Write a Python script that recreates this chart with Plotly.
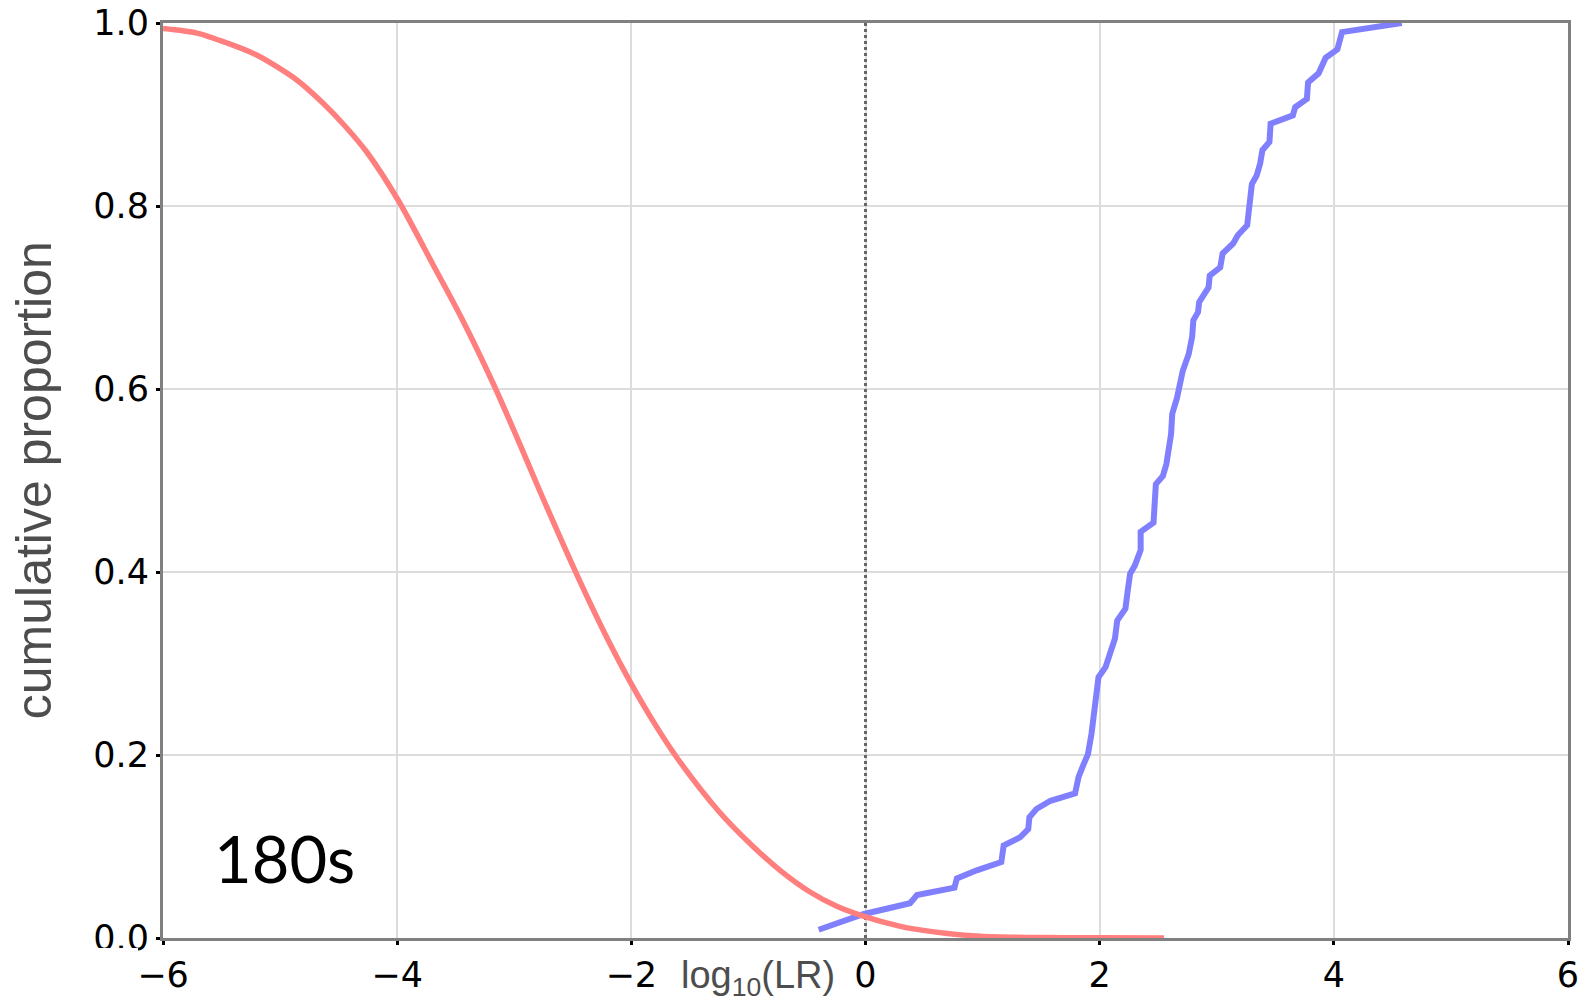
import plotly.graph_objects as go

# ---- data ----
red_x = [-6.0, -5.71, -5.45, -5.20, -4.86, -4.63, -4.45, -4.26, -3.99, -3.69, -3.46,
         -3.18, -2.98, -2.78, -2.44, -2.20, -2.01, -1.80, -1.61, -1.25, -0.96, -0.73,
         -0.47, -0.25, -0.02, 0.29, 0.41, 0.70, 0.98, 1.50, 2.00, 2.55]
red_y = [0.994, 0.989, 0.978, 0.965, 0.938, 0.912, 0.888, 0.859, 0.806, 0.735, 0.680,
         0.606, 0.548, 0.488, 0.390, 0.326, 0.280, 0.234, 0.197, 0.138, 0.100, 0.074,
         0.050, 0.035, 0.024, 0.013, 0.010, 0.005, 0.002, 0.0005, 0.0002, 0.0]

blue_x = [-0.40, -0.02, 0.38, 0.44, 0.76, 0.78, 0.95, 1.16, 1.18, 1.32, 1.39, 1.40,
          1.46, 1.58, 1.79, 1.82, 1.86, 1.90, 1.93, 1.96, 1.99, 2.05, 2.10, 2.13,
          2.15, 2.19, 2.22, 2.24, 2.26, 2.30, 2.32, 2.35, 2.35, 2.40, 2.46, 2.48,
          2.54, 2.57, 2.59, 2.61, 2.62, 2.66, 2.71, 2.76, 2.79, 2.80, 2.84, 2.85,
          2.93, 2.94, 3.03, 3.05, 3.14, 3.18, 3.26, 3.28, 3.30, 3.34, 3.37, 3.39,
          3.45, 3.46, 3.65, 3.67, 3.77, 3.78, 3.87, 3.93, 4.03, 4.07, 4.58]
blue_y = [0.009, 0.026, 0.038, 0.047, 0.055, 0.065, 0.074, 0.083, 0.101, 0.110, 0.119,
          0.132, 0.141, 0.150, 0.158, 0.176, 0.189, 0.201, 0.223, 0.260, 0.285, 0.296,
          0.318, 0.327, 0.347, 0.354, 0.360, 0.380, 0.398, 0.407, 0.416, 0.424, 0.444,
          0.449, 0.454, 0.496, 0.505, 0.518, 0.533, 0.551, 0.573, 0.590, 0.620, 0.638,
          0.657, 0.675, 0.684, 0.695, 0.711, 0.724, 0.733, 0.748, 0.759, 0.768, 0.779,
          0.799, 0.824, 0.833, 0.846, 0.861, 0.870, 0.890, 0.899, 0.908, 0.917, 0.935,
          0.945, 0.962, 0.971, 0.990, 1.0]

x_ticks = [-6, -4, -2, 0, 2, 4, 6]
x_tick_labels = ["\u22126", "\u22124", "\u22122", "0", "2", "4", "6"]
y_ticks = [0.0, 0.2, 0.4, 0.6, 0.8, 1.0]
y_tick_labels = ["0.0", "0.2", "0.4", "0.6", "0.8", "1.0"]
ref_x = [0, 0]
ref_y = [0, 1]

fig = go.Figure()
fig.add_trace(go.Scatter(x=ref_x, y=ref_y, mode="lines",
                         line=dict(color="#666666", width=3, dash="dot"),
                         showlegend=False, hoverinfo="skip"))
fig.add_trace(go.Scatter(x=blue_x, y=blue_y, mode="lines",
                         line=dict(color="#8080ff", width=6), showlegend=False))
fig.add_trace(go.Scatter(x=red_x, y=red_y, mode="lines",
                         line=dict(color="#ff7f7f", width=5.5, shape="spline", smoothing=0.8),
                         showlegend=False))

axis_common = dict(
    showline=True, linecolor="#808080", linewidth=3, mirror=True,
    showgrid=True, gridcolor="#dcdcdc", gridwidth=1.5,
    ticks="outside", ticklen=4, tickwidth=3, tickcolor="black",
    tickfont=dict(family="DejaVu Sans", size=35, color="black"),
    zeroline=False, automargin=False,
)

fig.update_xaxes(range=[-6, 6], tickvals=x_ticks, ticktext=x_tick_labels, **axis_common)
fig.update_yaxes(range=[0, 1], tickvals=y_ticks, ticktext=y_tick_labels, **axis_common)

fig.update_layout(
    width=1585, height=1006,
    margin=dict(l=163, r=17, t=23, b=68, pad=0, autoexpand=False),
    plot_bgcolor="white", paper_bgcolor="white",
    shapes=[
        # the reference crops the bottom edge of the "0.0" tick label
        dict(type="rect", xref="paper", yref="paper", layer="above",
             x0=-0.0555, x1=-0.0178, y0=-0.0175, y1=-0.0108,
             fillcolor="white", line=dict(width=0)),
    ],
    annotations=[
        dict(text="cumulative proportion", xref="paper", yref="paper",
             x=-0.092, y=0.5, textangle=-90, showarrow=False,
             xanchor="center", yanchor="middle",
             font=dict(family="Liberation Sans", size=50, color="#4d4d4d")),
        dict(text="log<sub>10</sub>(LR)", xref="x", yref="paper",
             x=-0.92, y=-0.044, showarrow=False,
             xanchor="center", yanchor="middle",
             font=dict(family="Liberation Sans", size=38, color="#4d4d4d")),
        dict(text="180s", xref="paper", yref="paper",
             x=(284 - 163) / 1405, y=(937.5 - 857) / 915, showarrow=False,
             xanchor="center", yanchor="middle",
             font=dict(family="Lato", size=65, color="black")),
    ],
)

fig.write_html("out.html")
